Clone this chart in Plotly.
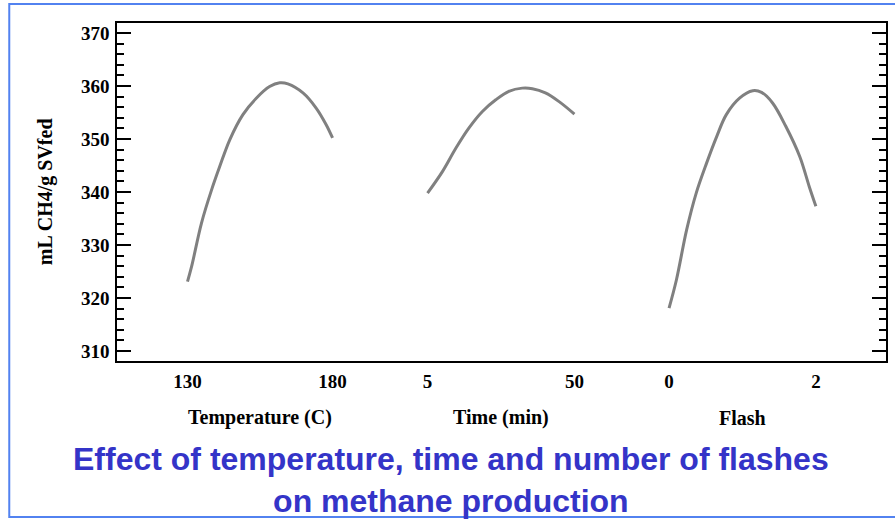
import plotly.graph_objects as go

# --- data ---
temp_x = [130, 131.4, 134.8, 138.3, 141.1, 144.6, 149.1, 153.7, 158.3, 161.8, 164.6, 169.8, 174.4, 177.8, 180]
temp_y = [323.1, 325.9, 334.1, 340.4, 344.8, 349.9, 354.6, 357.7, 359.9, 360.6, 360.4, 358.7, 355.8, 352.7, 350.2]

time_x = [5, 9.6, 13.7, 17.7, 21.8, 25.9, 29.9, 34.0, 37.1, 41.1, 45.2, 50]
time_y = [339.8, 343.9, 348.3, 352.1, 355.2, 357.4, 359.0, 359.6, 359.5, 358.7, 357.1, 354.7]

flash_x = [0, 0.10, 0.24, 0.37, 0.51, 0.65, 0.78, 0.96, 1.14, 1.26, 1.41, 1.59, 1.78, 1.91, 2]
flash_y = [318.1, 323.4, 332.9, 339.8, 345.4, 350.5, 354.6, 357.7, 359.1, 358.8, 356.8, 352.4, 346.7, 341.0, 337.3]

temp_ticks = [130, 180]
time_ticks = [5, 50]
flash_ticks = [0, 2]
y_ticks = [310, 320, 330, 340, 350, 360, 370]

x_titles = ["Temperature (C)", "Time (min)", "Flash"]
y_title = "mL CH4/g SVfed"
title_text = "Effect of temperature, time and number of flashes<br>on methane production"

LINE = dict(color="#808080", width=3, shape="spline", smoothing=1.0)
SERIF = "Liberation Serif"

fig = go.Figure()
# empty helper trace first so the full-width frame axis exists (drawn beneath)
fig.add_trace(go.Scatter(x=[], y=[], mode="lines", xaxis="x4", yaxis="y", showlegend=False, hoverinfo="skip"))
fig.add_trace(go.Scatter(x=temp_x, y=temp_y, mode="lines", line=LINE, xaxis="x", yaxis="y", showlegend=False))
fig.add_trace(go.Scatter(x=time_x, y=time_y, mode="lines", line=LINE, xaxis="x2", yaxis="y", showlegend=False))
fig.add_trace(go.Scatter(x=flash_x, y=flash_y, mode="lines", line=LINE, xaxis="x3", yaxis="y", showlegend=False))

tickfont = dict(family=SERIF, size=19, color="black", weight="bold")

def xaxis(domain, rng, ticks):
    return dict(domain=domain, range=rng, tickmode="array", tickvals=ticks,
                ticktext=[str(t) for t in ticks], ticks="", showgrid=False,
                zeroline=False, showline=False, linecolor="black",
                linewidth=1.5, tickfont=tickfont, anchor="y", fixedrange=True,
                ticklabelstandoff=7)

fig.update_layout(
    width=895, height=519,
    margin=dict(l=117, r=7, t=23, b=158),
    paper_bgcolor="white", plot_bgcolor="rgba(0,0,0,0)",
    xaxis=xaxis([0, 0.372], [105.7, 204.3], temp_ticks),
    xaxis2=xaxis([0.372, 0.6267], [-2.5, 57.5], time_ticks),
    xaxis3=xaxis([0.6267, 1], [-0.955, 2.955], flash_ticks),
    xaxis4=dict(domain=[0, 1], range=[0, 1], showticklabels=False, ticks="",
                showgrid=False, zeroline=False, showline=True, mirror=True,
                linecolor="black", linewidth=1.5, anchor="y", fixedrange=True),
    yaxis=dict(range=[308.11, 371.89], tickmode="array", tickvals=y_ticks,
               ticks="inside", ticklen=14, tickwidth=1.5, tickcolor="black",
               minor=dict(ticks="inside", ticklen=7, dtick=2, tickwidth=1.5, tickcolor="black"),
               showline=True, mirror="ticks", linecolor="black", linewidth=1.5,
               showgrid=False, zeroline=False, tickfont=tickfont, anchor="x4",
               ticklabelstandoff=2, fixedrange=True),
)

axis_refs = ["x domain", "x2 domain", "x3 domain"]
for ref, t in zip(axis_refs, x_titles):
    fig.add_annotation(text=t, xref=ref, x=0.5, yref="paper", y=-0.1686,
                       xanchor="center", yanchor="middle", showarrow=False,
                       font=dict(family=SERIF, size=20, color="black", weight="bold"))

fig.add_annotation(text=y_title, xref="paper", x=-0.0934, yref="paper", y=0.5,
                   textangle=-90, xanchor="center", yanchor="middle", showarrow=False,
                   font=dict(family=SERIF, size=20, color="black", weight="bold"))

fig.add_annotation(text=title_text, xref="paper", x=0.4345, yref="paper", y=-0.353,
                   xanchor="center", yanchor="middle", showarrow=False,
                   font=dict(family="Liberation Sans", size=32, color="#3434c8", weight="bold"),
                   align="center")

# slide frame (light blue border)
fig.add_shape(type="rect", xref="paper", yref="paper", x0=-0.1401, x1=1.1, y0=-0.4615, y1=1.0562,
              line=dict(color="#5282f0", width=2), layer="below")

fig.write_html("out.html")
